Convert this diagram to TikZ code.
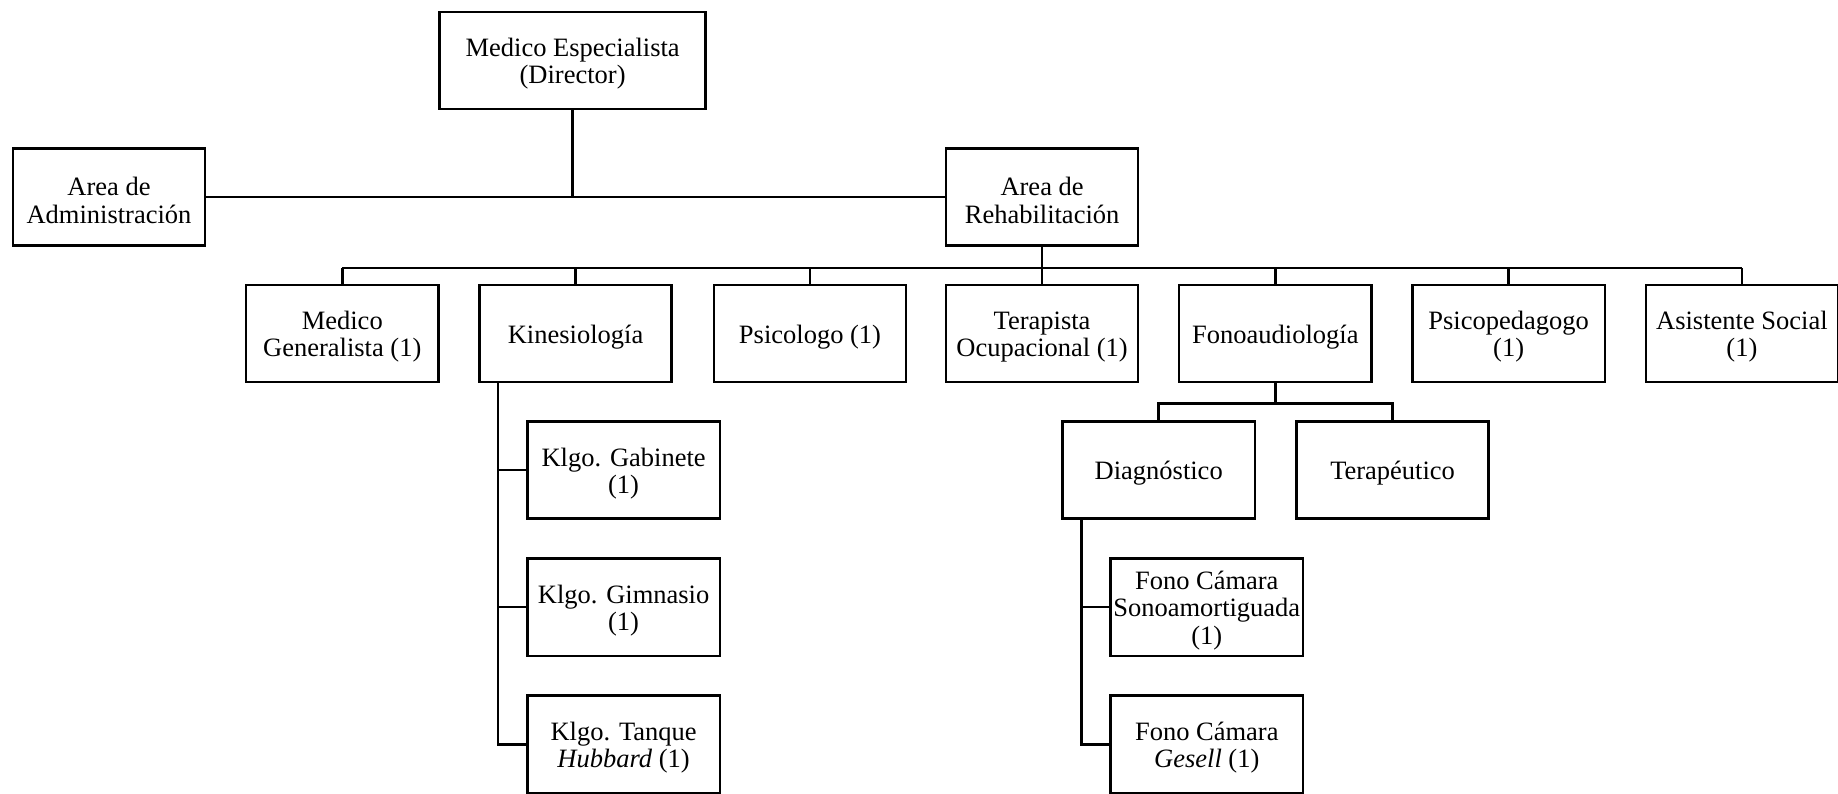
\documentclass[tikz,border=0pt]{standalone}
\usepackage{fontspec}
\setmainfont{Liberation Serif}
\begin{document}
\begin{tikzpicture}[x=0.5pt,y=-0.5pt,
  box/.style={draw,line width=1.05pt,inner sep=0pt,
    minimum width=82pt,minimum height=41.5pt},
  txt/.style={align=center,inner sep=0pt,yshift=-1.4pt,
    font=\fontsize{11.3}{11.7}\selectfont},
  conn/.style={line width=1.05pt}]
\useasboundingbox (0,0) rectangle (1568,677);
% top levels
\node[box,minimum width=113.5pt,label={[txt]center:{Medico Especialista\\(Director)}}] (dir) at (488.5,51.5) {};
\node[box,label={[txt]center:{Area de\\Administración}}] (adm) at (93,168) {};
\node[box,label={[txt]center:{Area de\\Rehabilitación}}] (reh) at (889,168) {};
% row 2
\node[box,label={[txt]center:{Medico\\Generalista (1)}}] (mg) at (292,284.5) {};
\node[box,label={[txt]center:{Kinesiología}}] (kin) at (491,284.5) {};
\node[box,label={[txt]center:{Psicologo (1)}}] (psi) at (691,284.5) {};
\node[box,label={[txt]center:{Terapista\\Ocupacional (1)}}] (ter) at (889,284.5) {};
\node[box,label={[txt]center:{Fonoaudiología}}] (fon) at (1088,284.5) {};
\node[box,label={[txt]center:{Psicopedagogo\\(1)}}] (psp) at (1287,284.5) {};
\node[box,label={[txt]center:{Asistente Social\\(1)}}] (asi) at (1486,284.5) {};
% kinesiologia children
\node[box,label={[txt]center:{Klgo. Gabinete\\(1)}}] (k1) at (532,401) {};
\node[box,label={[txt]center:{Klgo. Gimnasio\\(1)}}] (k2) at (532,518) {};
\node[box,label={[txt]center:{Klgo. Tanque\\\textit{Hubbard} (1)}}] (k3) at (532,635) {};
% fono children
\node[box,label={[txt]center:{Diagnóstico}}] (dia) at (988.5,401) {};
\node[box,label={[txt]center:{Terapéutico}}] (tep) at (1188,401) {};
\node[box,label={[txt]center:{Fono Cámara\\Sonoamortiguada\\(1)}}] (f1) at (1029.5,518) {};
\node[box,label={[txt]center:{Fono Cámara\\\textit{Gesell} (1)}}] (f2) at (1029.5,635) {};
% connectors
\draw[conn] (adm.east) -- (reh.west);
\draw[conn] (dir.south) -- (dir.south |- adm.east);
\draw[conn] (reh.south) -- ++(0,18) coordinate (bus);
\draw[conn] (mg.north |- bus) -- (asi.north |- bus);
\foreach \n in {mg,kin,psi,ter,fon,psp,asi}{
  \draw[conn] (\n.north) -- (\n.north |- bus);
}
\coordinate (kv) at ([xshift=8.5pt]kin.south west);
\draw[conn] (kv) |- (k3.west);
\draw[conn] (kv |- k1.west) -- (k1.west);
\draw[conn] (kv |- k2.west) -- (k2.west);
\draw[conn] (fon.south) -- ++(0,17) coordinate (fb);
\draw[conn] (dia.north) |- (fb) -| (tep.north);
\coordinate (dv) at ([xshift=8.5pt]dia.south west);
\draw[conn] (dv) |- (f2.west);
\draw[conn] (dv |- f1.west) -- (f1.west);
\end{tikzpicture}
\end{document}
